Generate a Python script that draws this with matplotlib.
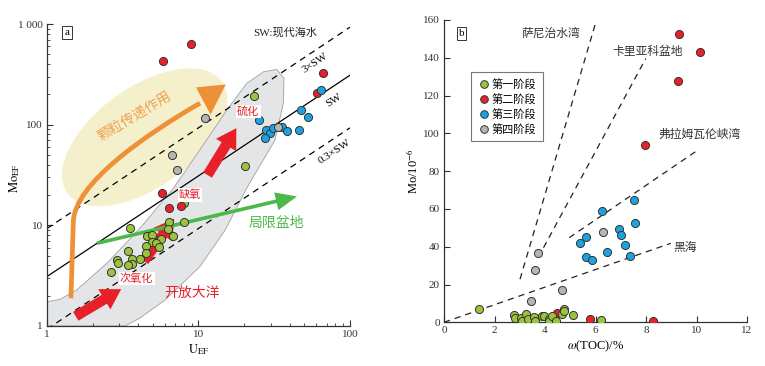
import matplotlib
matplotlib.use("Agg")
import matplotlib.pyplot as plt
from matplotlib.patches import Polygon, Ellipse, FancyArrow, PathPatch
from matplotlib.path import Path
from matplotlib.lines import Line2D
import numpy as np

plt.rcParams['font.family'] = ['Liberation Serif', 'Noto Sans CJK SC']
plt.rcParams['mathtext.fontset'] = 'stix'

# ---------------- data: panel a (U_EF vs Mo_EF) ----------------
stage_names = ['第一阶段', '第二阶段', '第三阶段', '第四阶段']
stage_colors = ['#9cc43a', '#e8202a', '#1aa3e0', '#b5b5b5']

a_s1_u = [23.4, 20.4, 7.99, 3.55, 8.08, 6.39, 6.31, 4.57, 4.97, 6.81, 5.63, 4.93,
          5.24, 5.53, 4.50, 4.50, 3.45, 2.88, 2.96, 3.64, 4.09, 3.64, 3.44, 2.65]
a_s1_mo = [194, 39.1, 16.5, 9.51, 10.7, 10.9, 9.23, 7.92, 8.07, 7.92, 7.31, 6.83,
           6.63, 6.16, 6.27, 5.33, 5.60, 4.52, 4.25, 4.68, 4.61, 4.15, 4.01, 3.40]
a_s2_u = [5.86, 8.92, 66.0, 60.3, 5.74, 6.42, 7.66]
a_s2_mo = [428, 627, 323, 206, 21.1, 14.9, 15.6]
a_s3_u = [64.4, 25.1, 47.3, 52.8, 27.8, 29.5, 27.5, 30.9, 35.4, 38.2, 45.8]
a_s3_mo = [219, 111, 140, 119, 89, 82.6, 73.1, 93.2, 94.7, 85.8, 87.8]
a_s4_u = [11.0, 6.72, 7.25, 33.6]
a_s4_mo = [116, 49.6, 35.2, 94.7]

sw_ratio = 3.1
sw_factors = [3, 1, 0.3]
sw_styles = ['--', '-', '--']
sw_labels = ['3×SW', 'SW', '0.3×SW']

# envelope of the open ocean -> euxinic trend (U_EF, Mo_EF)
env_u = [1.0, 1.22, 1.57, 2.48, 4.11, 6.82, 10.2, 15.4, 20.8, 26.8, 32.8, 36.7,
         36.3, 32.0, 21.2, 15.0, 10.2, 6.01, 4.11, 3.27, 1.0]
env_mo = [1.74, 1.84, 2.28, 4.19, 9.34, 23.3, 56, 140, 257, 335, 354, 288,
          163, 70.3, 24.6, 8.98, 3.88, 1.81, 1.20, 1.0, 1.0]

# ---------------- data: panel b (TOC vs Mo) ----------------
b_s1_toc = [1.38, 2.76, 2.80, 3.06, 3.07, 3.26, 3.31, 3.57, 3.59, 3.88, 3.96, 4.14,
            4.17, 4.26, 4.43, 4.67, 4.75, 4.75, 5.11, 6.21]
b_s1_mo = [6.9, 3.7, 2.1, 2.1, 0.6, 4.4, 1.9, 3.0, 0.7, 3.3, 3.3, 1.7,
           0.8, 3.5, 0.6, 4.5, 7.3, 6.1, 3.9, 1.3]
b_s2_toc = [9.30, 10.14, 9.27, 7.96, 5.80, 8.29, 4.46]
b_s2_mo = [152.6, 142.9, 127.6, 93.7, 1.7, 0.8, 4.7]
b_s3_toc = [7.52, 6.25, 7.57, 6.92, 6.99, 5.64, 5.38, 7.16, 6.45, 7.37, 5.63, 5.85]
b_s3_mo = [64.9, 59.1, 52.6, 49.6, 46.4, 45.2, 42.0, 40.8, 37.4, 35.3, 34.7, 33.1]
b_s4_toc = [6.30, 3.73, 3.61, 4.68, 3.43]
b_s4_mo = [48.0, 36.7, 27.9, 16.9, 11.3]

ref_names = ['萨尼治水湾', '卡里亚科盆地', '弗拉姆瓦伦峡湾', '黑海']
ref_x0 = [3.01, 3.94, 4.96, 0.0]
ref_y0 = [22.8, 39.5, 44.8, 0.0]
ref_x1 = [5.99, 7.99, 9.96, 8.98]
ref_y1 = [157.8, 139.6, 90.3, 41.8]
ref_label_x = [4.22, 8.08, 10.13, 9.55]
ref_label_y = [153, 143.3, 99.2, 39.2]

# ---------------- figure ----------------
fig = plt.figure(figsize=(7.65, 3.66), dpi=100)
axa = fig.add_axes([0.0614, 0.1093, 0.3961, 0.8251])
axb = fig.add_axes([0.5804, 0.1194, 0.3961, 0.8260])

red = '#e8202a'
orange = '#ee9038'
green_arrow = '#4cb84a'

# ---- panel a ----
axa.set_xscale('log')
axa.set_yscale('log')
axa.set_xlim(1, 100)
axa.set_ylim(1, 1000)

# beige blob
axa.add_patch(Ellipse((0.322, 0.625), 0.63, 0.33, angle=36, transform=axa.transAxes,
                      facecolor='#f5f0cc', edgecolor='none', zorder=1))
# gray envelope
axa.add_patch(Polygon(np.column_stack([env_u, env_mo]), closed=True,
                      facecolor='#e4e5e7', edgecolor='#a0a0a0', lw=0.6,
                      joinstyle='round', zorder=1.5))

# seawater lines
xl = np.array([1.0, 100.0])
for f, ls in zip(sw_factors, sw_styles):
    axa.plot(xl, sw_ratio * f * xl, color='black', ls=ls, lw=0.9,
             dashes=(5, 4) if ls == '--' else (None, None), zorder=2)

# orange particulate shuttle arrow (curved)
verts = [(0.079, 0.092), (0.087, 0.345), (0.09, 0.47), (0.32, 0.63), (0.505, 0.738)]
codes = [Path.MOVETO, Path.LINETO, Path.CURVE4, Path.CURVE4, Path.CURVE4]
axa.add_patch(PathPatch(Path(verts, codes), transform=axa.transAxes, facecolor='none',
                        edgecolor=orange, lw=3.4, capstyle='butt', zorder=2.5))
axa.add_patch(Polygon([(0.59, 0.80), (0.492, 0.79), (0.54, 0.70)], closed=True,
                      transform=axa.transAxes, facecolor=orange, edgecolor='none', zorder=2.5))

# red block arrows
for (x0, y0, x1, y1) in [(0.095, 0.032, 0.245, 0.122),
                         (0.32, 0.215, 0.42, 0.355),
                         (0.53, 0.50, 0.625, 0.655)]:
    axa.add_patch(FancyArrow(x0, y0, x1 - x0, y1 - y0, width=0.034, head_width=0.078,
                             head_length=0.065, length_includes_head=True,
                             transform=axa.transAxes, facecolor=red, edgecolor='none',
                             zorder=2.6))
# green arrow
axa.add_patch(FancyArrow(0.165, 0.274, 0.66, 0.155, width=0.012, head_width=0.06,
                         head_length=0.07, length_includes_head=True,
                         transform=axa.transAxes, facecolor=green_arrow,
                         edgecolor='none', zorder=2.7))

msize = 34
for u, mo, c in [(a_s1_u, a_s1_mo, stage_colors[0]), (a_s2_u, a_s2_mo, stage_colors[1]),
                 (a_s3_u, a_s3_mo, stage_colors[2]), (a_s4_u, a_s4_mo, stage_colors[3])]:
    axa.scatter(u, mo, s=msize, c=c, edgecolors='#333333', linewidths=0.7, zorder=3)

# texts panel a
axa.text(0.29, 0.695, '颗粒传递作用', transform=axa.transAxes, rotation=31,
         color='#f0a050', fontsize=10, ha='center', va='center', zorder=4)
wb = dict(facecolor='white', edgecolor='none', pad=1.0)
axa.text(0.664, 0.71, '硫化', transform=axa.transAxes, color=red, fontsize=8,
         ha='center', va='center', bbox=wb, zorder=4)
axa.text(0.472, 0.434, '缺氧', transform=axa.transAxes, color=red, fontsize=8,
         ha='center', va='center', bbox=wb, zorder=4)
axa.text(0.296, 0.158, '次氧化', transform=axa.transAxes, color=red, fontsize=8,
         ha='center', va='center', bbox=wb, zorder=4)
axa.text(0.478, 0.108, '开放大洋', transform=axa.transAxes, color=red, fontsize=10,
         ha='center', va='center', zorder=4)
axa.text(0.758, 0.34, '局限盆地', transform=axa.transAxes, color=green_arrow,
         fontsize=10, ha='center', va='center', zorder=4)
axa.text(0.785, 0.972, 'SW:现代海水', transform=axa.transAxes, color='#222222',
         fontsize=8, ha='center', va='center', zorder=4)
axa.text(0.886, 0.872, '3×SW', transform=axa.transAxes, rotation=33.6, fontsize=8,
         ha='center', va='center', zorder=4)
axa.text(0.948, 0.748, 'SW', transform=axa.transAxes, rotation=33.6, fontsize=8,
         ha='center', va='center', zorder=4)
axa.text(0.948, 0.578, '0.3×SW', transform=axa.transAxes, rotation=33.6, fontsize=8,
         ha='center', va='center', zorder=4)
axa.text(0.066, 0.972, 'a', transform=axa.transAxes, fontsize=8, ha='center',
         va='center', zorder=4,
         bbox=dict(facecolor='white', edgecolor='#333333', lw=0.7, pad=1.5))

axa.set_xticks([1, 10, 100])
axa.set_xticklabels(['1', '10', '100'])
axa.set_yticks([1, 10, 100, 1000])
axa.set_yticklabels(['1', '10', '100', '1 000'])
axa.set_xlabel(r'$\mathrm{U_{EF}}$', fontsize=9, labelpad=2)
axa.set_ylabel(r'$\mathrm{Mo_{EF}}$', fontsize=9)
axa.yaxis.set_label_coords(-0.083, 0.49)

# ---- panel b ----
axb.set_xlim(0, 12)
axb.set_ylim(0, 160)
for x0, y0, x1, y1 in zip(ref_x0, ref_y0, ref_x1, ref_y1):
    axb.plot([x0, x1], [y0, y1], color='#222222', ls='--', dashes=(5, 4), lw=0.9, zorder=2)
for name, lx, ly in zip(ref_names, ref_label_x, ref_label_y):
    axb.text(lx, ly, name, fontsize=8.5, color='#333333', ha='center', va='center', zorder=4)

for t, mo, c in [(b_s2_toc, b_s2_mo, stage_colors[1]), (b_s1_toc, b_s1_mo, stage_colors[0]),
                 (b_s3_toc, b_s3_mo, stage_colors[2]), (b_s4_toc, b_s4_mo, stage_colors[3])]:
    axb.scatter(t, mo, s=msize, c=c, edgecolors='#333333', linewidths=0.7, zorder=3)

handles = [Line2D([], [], ls='none', marker='o', markersize=5.5, markerfacecolor=c,
                  markeredgecolor='#333333', markeredgewidth=0.7) for c in stage_colors]
leg = axb.legend(handles, stage_names, loc='upper left', bbox_to_anchor=(0.072, 0.845),
                 frameon=True, fancybox=False, handletextpad=0.2,
                 handlelength=1.0, borderpad=0.6, labelspacing=0.35,
                 prop={'family': ['Noto Sans CJK SC'], 'size': 8})
leg.get_frame().set_edgecolor('#555555')
leg.get_frame().set_linewidth(0.8)

axb.text(0.058, 0.955, 'b', transform=axb.transAxes, fontsize=8, ha='center',
         va='center', zorder=4,
         bbox=dict(facecolor='white', edgecolor='#333333', lw=0.7, pad=1.5))

axb.set_xticks(np.arange(0, 13, 2))
axb.set_yticks(np.arange(0, 161, 20))
axb.set_xlabel(r'$\omega$(TOC)/%', fontsize=9, labelpad=2)
axb.set_ylabel(r'Mo/10$^{-6}$', fontsize=9)
axb.yaxis.set_label_coords(-0.075, 0.5)

for ax in (axa, axb):
    for s in ('top', 'right'):
        ax.spines[s].set_visible(False)
    for s in ('left', 'bottom'):
        ax.spines[s].set_color('#333333')
        ax.spines[s].set_linewidth(0.9)
    ax.tick_params(which='major', direction='in', length=4, width=0.8, labelsize=8,
                   colors='#333333', pad=3)
    ax.tick_params(which='minor', direction='in', length=2.5, width=0.6, colors='#333333')
    for lab in ax.get_xticklabels() + ax.get_yticklabels():
        lab.set_family('Liberation Serif')

fig.savefig('out.png', dpi=100)
